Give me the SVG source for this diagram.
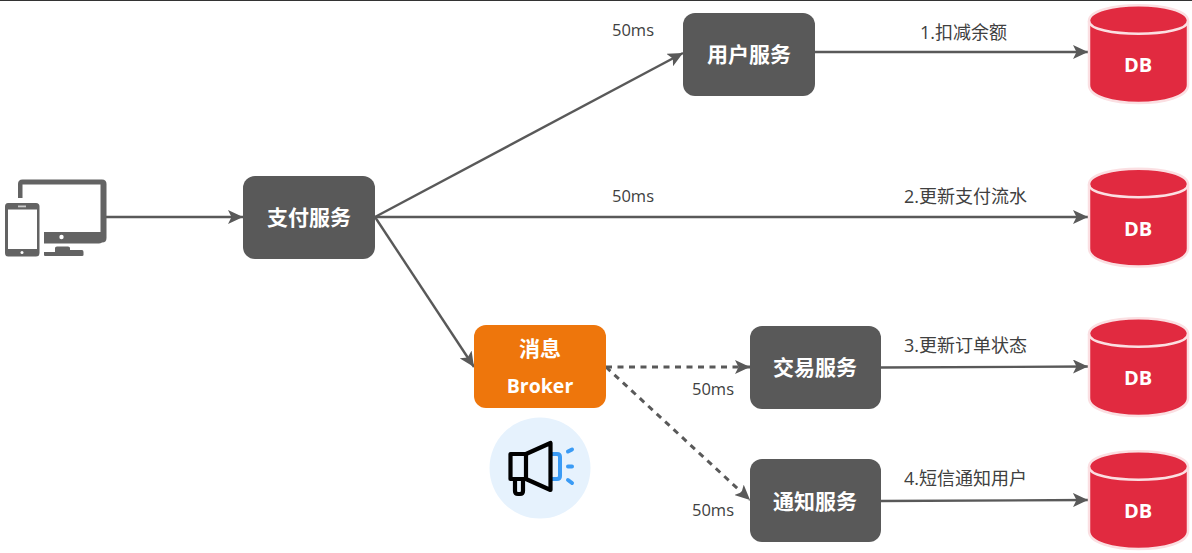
<svg xmlns="http://www.w3.org/2000/svg" xmlns:xlink="http://www.w3.org/1999/xlink" width="1192" height="553" viewBox="0 0 1192 553">
<style>
text{font-family:"Open Sans","Noto Sans CJK SC",sans-serif}
.box{fill:#595959}
.bt{fill:#fff;font-size:21px;font-weight:700;text-anchor:middle}
.lb{fill:#404040;font-size:18px}
.ms{fill:#404040;font-size:16.500px}
.ln{fill:none;stroke:#595959;stroke-width:2.400}
.da{stroke-dasharray:6 5.500;stroke-width:3}
.db{fill:#e12a40;stroke:#fbdfe2;stroke-width:2.500}
.rim{fill:none;stroke:#fbdfe2;stroke-width:2.500}
.dt{fill:#fff;font-size:20px;font-weight:700;text-anchor:middle}
</style>
<defs>
<marker id="ah" markerUnits="userSpaceOnUse" markerWidth="16" markerHeight="14" refX="15" refY="7" orient="auto"><path d="M0 0L15 7L0 14L3.500 7Z" fill="#595959"/></marker>
<g id="cyl"><path class="db" d="M1089 21C1089 0 1188 0 1188 21V85C1188 109 1089 109 1089 85Z"/><path class="rim" d="M1089 21C1089 38 1188 38 1188 21"/></g>
</defs>
<rect x="0" y="0" width="1192" height="1" fill="#333"/>
<g id="connectors">
<path class="ln" d="M105 217H243" marker-end="url(#ah)"/>
<path class="ln" d="M375 217L683 53" marker-end="url(#ah)"/>
<path class="ln" d="M375 217H1088" marker-end="url(#ah)"/>
<path class="ln" d="M375 217L474 367" marker-end="url(#ah)"/>
<path class="ln" d="M815 52H1088" marker-end="url(#ah)"/>
<path class="ln" d="M881 367.500L1088 366.500" marker-end="url(#ah)"/>
<path class="ln" d="M881 501L1088 500" marker-end="url(#ah)"/>
<path class="ln da" d="M606 367H750" marker-end="url(#ah)"/>
<path class="ln da" d="M606 367L750 500" marker-end="url(#ah)"/>
</g>
<g id="client" fill="#636363">
<path d="M19.500 198V184Q19.500 181 22.500 181H102Q105 181 105 184V238Q105 241 102 241V181M21 198V183H103V238" fill="none" stroke="#636363" stroke-width="3"/>
<path d="M44 232H102V241Q102 243.500 99 243.500H44Z"/>
<circle cx="61.500" cy="237" r="2.200" fill="#fff"/>
<path d="M55 252V248Q55 246.500 57 246.500H68Q70 246.500 70 248V250H82Q83.500 250 83.500 252V255Q83.500 256 82 256H45Q44 256 44 255V252Q44 252 46 252Z"/>
<path fill-rule="evenodd" d="M8 203H36Q39.500 203 39.500 206.500V253Q39.500 256.500 36 256.500H8Q5 256.500 5 253V206.500Q5 203 8 203ZM8 209.500V249H37V209.500Z"/>
<rect x="18" y="205.500" width="8" height="1.800" fill="#ccc"/>
<circle cx="22" cy="252.500" r="1.500" fill="#fff"/>
</g>
<g id="pay"><rect class="box" x="243" y="176" width="132" height="83" rx="12"/><text class="bt" x="309" y="225">支付服务</text></g>
<g id="user"><rect class="box" x="683" y="13" width="132" height="83" rx="12"/><text class="bt" x="749" y="62">用户服务</text></g>
<g id="trade"><rect class="box" x="750" y="326" width="131" height="83" rx="12"/><text class="bt" x="815" y="375">交易服务</text></g>
<g id="notify"><rect class="box" x="750" y="459" width="131" height="83" rx="12"/><text class="bt" x="815" y="509">通知服务</text></g>
<g id="broker"><rect x="474" y="325" width="132" height="83" rx="12" fill="#ee760c"/><text class="bt" x="540" y="356">消息</text><text class="bt" x="540" y="393" style="font-size:19.500px">Broker</text></g>
<g id="megaphone">
<circle cx="540" cy="468" r="50.500" fill="#e6f2fd"/>
<path d="M552 454H557Q560 454 560 457V476Q560 479 557 479H552" fill="none" stroke="#3a9bf5" stroke-width="4"/>
<path d="M568 451.500L572 449.500M568 466.500H572M568 480L572 483" stroke="#3a9bf5" stroke-width="4" stroke-linecap="round"/>
<path d="M510.500 454H526L550.500 443V490L526 479H510.500ZM526 454V479M515 479V491Q515 494 518 494H520Q523 494 523 491V479" fill="none" stroke="#000" stroke-width="4.200" stroke-linejoin="round"/>
</g>
<g id="db1"><use xlink:href="#cyl" href="#cyl"/><text class="dt" x="1138" y="72">DB</text></g>
<g id="db2"><use xlink:href="#cyl" href="#cyl" y="163.500"/><text class="dt" x="1138" y="236">DB</text></g>
<g id="db3"><use xlink:href="#cyl" href="#cyl" y="313"/><text class="dt" x="1138" y="385">DB</text></g>
<g id="db4"><use xlink:href="#cyl" href="#cyl" y="446"/><text class="dt" x="1138" y="518">DB</text></g>
<g id="labels">
<text class="ms" x="612" y="36">50ms</text>
<text class="ms" x="612" y="202">50ms</text>
<text class="ms" x="692" y="395">50ms</text>
<text class="ms" x="692" y="516">50ms</text>
<text class="lb" x="920" y="39">1.扣减余额</text>
<text class="lb" x="904" y="203">2.更新支付流水</text>
<text class="lb" x="904" y="352">3.更新订单状态</text>
<text class="lb" x="904" y="485">4.短信通知用户</text>
</g>
</svg>
